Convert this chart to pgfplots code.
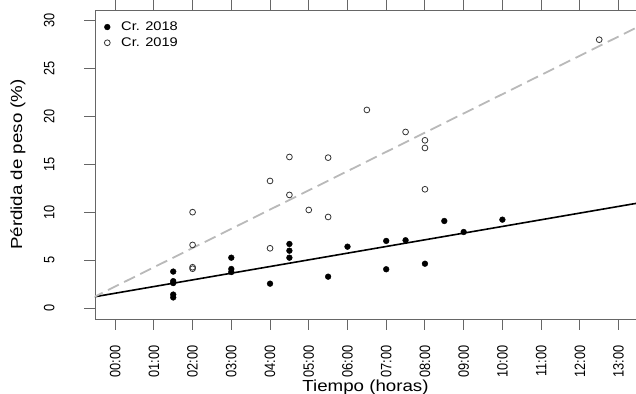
\documentclass[border=0pt]{standalone}
\usepackage{pgfplots}
\pgfplotsset{compat=1.18}
\usepackage{fontspec}
\setmainfont{Liberation Sans}
\newfontfamily\wide[FakeStretch=1.17]{Liberation Sans}
\begin{document}
\begin{tikzpicture}
\begin{axis}[
  at={(0,0)}, anchor=south west,
  scale only axis, width=541bp, height=309bp,
  xmin=-0.52, xmax=13.45, ymin=-1.15, ymax=31.1,
  axis line style={black!60, line width=0.9bp},
  every tick/.style={black!60, line width=0.9bp},
  tick align=outside,
  major tick length=10.5bp,
  xtick={0,1,...,13},
  xticklabels={00:00,01:00,02:00,03:00,04:00,05:00,06:00,07:00,08:00,09:00,10:00,11:00,12:00,13:00},
  ytick={0,5,10,15,20,25,30},
  /pgf/number format/assume math mode=true,
  xticklabel style={font=\fontsize{12.8bp}{14bp}\selectfont, inner sep=0pt, yshift=-16bp, xscale=1.17, rotate=90, anchor=east},
  yticklabel style={font=\fontsize{12.8bp}{14bp}\selectfont, inner sep=0pt, xshift=-30bp, xscale=1.17, rotate=90, anchor=base},
  xlabel={Tiempo (horas)},
  ylabel={Pérdida de peso (\%)},
  xlabel style={font=\wide\fontsize{16bp}{18bp}\selectfont, inner sep=0pt, at={(axis description cs:0.5,-0.2362)}, anchor=base},
  ylabel style={font=\fontsize{16bp}{18bp}\selectfont, inner sep=0pt, at={(axis description cs:-0.1349,0.5)}, anchor=base, xscale=1.17},
  legend style={at={(axis description cs:0.017,0.962)}, anchor=north west, draw=none, fill=none,
    font=\wide\fontsize{12.5bp}{14bp}\selectfont, inner sep=0pt, row sep=5.5bp, column sep=11bp,
    nodes={inner sep=0pt}},
  legend cell align=left,
  clip=true,
]
\addplot[only marks, mark=*, mark size=2.9bp, mark options={fill=black, draw=black}] coordinates {
(1.5,3.8)(1.5,2.8)(1.5,2.6)(1.5,1.4)(1.5,1.1)
(3,5.25)(3,4.07)(3,3.75)
(4,2.54)
(4.5,6.68)(4.5,5.98)(4.5,5.25)
(5.5,3.27)(6,6.4)(7,7.0)(7,4.04)(7.5,7.07)(8,4.62)(8.5,9.08)(9,7.93)(10,9.22)
};
\addlegendentry{Cr. 2018}
\addplot[only marks, mark=o, mark size=2.9bp, mark options={draw=black!80, line width=0.8bp}] coordinates {
(2,10.0)(2,6.58)(2,4.25)(2,4.1)(4,6.23)(4,13.26)(4.5,11.8)(4.5,15.76)(5,10.23)
(5.5,15.69)(5.5,9.5)(6.5,20.67)(7.5,18.37)(8,17.5)(8,16.7)(8,12.39)(12.5,28.0)
};
\addlegendentry{Cr. 2019}
\addplot[black, line width=1.6bp, forget plot] coordinates {(-0.6,1.12)(13.6,11.02)};
\addplot[gray!55, line width=1.8bp, dash pattern=on 12bp off 6bp, forget plot] coordinates {(-0.6,1.036)(13.6,29.54)};
\end{axis}
\pgfresetboundingbox
\useasboundingbox (-95bp,-75bp) rectangle (541bp,319bp);
\end{tikzpicture}
\end{document}
